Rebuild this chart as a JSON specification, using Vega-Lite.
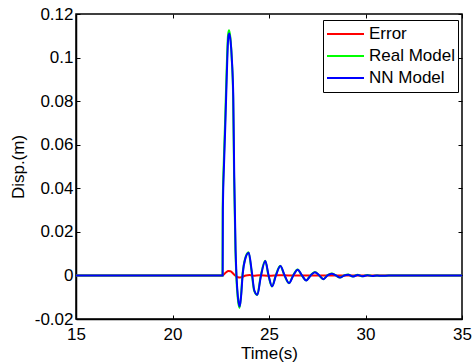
{
  "$schema": "https://vega.github.io/schema/vega-lite/v6.json",
  "autosize": {"type": "none"},
  "padding": {"left": 76, "top": 14, "right": 11, "bottom": 45},
  "width": 386,
  "height": 305,
  "background": "white",
  "config": {
    "font": "Liberation Sans",
    "view": {"stroke": "black", "strokeWidth": 1.5},
    "axis": {
      "labelFont": "Liberation Sans",
      "titleFont": "Liberation Sans",
      "labelFontSize": 17,
      "titleFontSize": 17,
      "titleFontWeight": "normal",
      "labelColor": "black",
      "titleColor": "black",
      "domainColor": "black",
      "domainWidth": 1.5,
      "tickColor": "black",
      "tickWidth": 1,
      "tickSize": -4,
      "labelFlush": false,
      "grid": false
    },
    "legend": {
      "labelFont": "Liberation Sans",
      "labelFontSize": 17,
      "labelColor": "black"
    }
  },
  "datasets": {
    "lines": [
      {"t": 15, "v": 0, "s": "Error"},
      {"t": 22.6, "v": 0, "s": "Error"},
      {"t": 22.75, "v": 0.0012, "s": "Error"},
      {"t": 22.9, "v": 0.002, "s": "Error"},
      {"t": 23.0, "v": 0.0019, "s": "Error"},
      {"t": 23.15, "v": 0.0008, "s": "Error"},
      {"t": 23.3, "v": -0.0004, "s": "Error"},
      {"t": 23.45, "v": -0.001, "s": "Error"},
      {"t": 23.6, "v": -0.0007, "s": "Error"},
      {"t": 23.8, "v": 0, "s": "Error"},
      {"t": 24.0, "v": 0.0002, "s": "Error"},
      {"t": 24.2, "v": -0.0002, "s": "Error"},
      {"t": 24.5, "v": 0.0001, "s": "Error"},
      {"t": 25.0, "v": -0.0001, "s": "Error"},
      {"t": 25.5, "v": 0.0001, "s": "Error"},
      {"t": 26.0, "v": 0, "s": "Error"},
      {"t": 35, "v": 0, "s": "Error"},

      {"t": 15, "v": 0, "s": "Real Model"},
      {"t": 22.59, "v": 0, "s": "Real Model"},
      {"t": 22.60, "v": 0.031, "s": "Real Model"},
      {"t": 22.66, "v": 0.053, "s": "Real Model"},
      {"t": 22.73, "v": 0.072, "s": "Real Model"},
      {"t": 22.80, "v": 0.093, "s": "Real Model"},
      {"t": 22.88, "v": 0.1105, "s": "Real Model"},
      {"t": 22.93, "v": 0.1125, "s": "Real Model"},
      {"t": 23.00, "v": 0.109, "s": "Real Model"},
      {"t": 23.07, "v": 0.0995, "s": "Real Model"},
      {"t": 23.14, "v": 0.0825, "s": "Real Model"},
      {"t": 23.19, "v": 0.046, "s": "Real Model"},
      {"t": 23.26, "v": 0.0118, "s": "Real Model"},
      {"t": 23.31, "v": -0.0010, "s": "Real Model"},
      {"t": 23.38, "v": -0.0103, "s": "Real Model"},
      {"t": 23.47, "v": -0.0149, "s": "Real Model"},
      {"t": 23.54, "v": -0.0103, "s": "Real Model"},
      {"t": 23.63, "v": 0.0007, "s": "Real Model"},
      {"t": 23.76, "v": 0.0077, "s": "Real Model"},
      {"t": 23.94, "v": 0.0106, "s": "Real Model"},
      {"t": 24.09, "v": 0.0023, "s": "Real Model"},
      {"t": 24.23, "v": -0.0070, "s": "Real Model"},
      {"t": 24.39, "v": -0.0090, "s": "Real Model"},
      {"t": 24.56, "v": -0.0008, "s": "Real Model"},
      {"t": 24.80, "v": 0.0067, "s": "Real Model"},
      {"t": 24.97, "v": 0, "s": "Real Model"},
      {"t": 25.15, "v": -0.0051, "s": "Real Model"},
      {"t": 25.35, "v": 0, "s": "Real Model"},
      {"t": 25.58, "v": 0.0044, "s": "Real Model"},
      {"t": 25.80, "v": 0, "s": "Real Model"},
      {"t": 26.03, "v": -0.0036, "s": "Real Model"},
      {"t": 26.25, "v": 0, "s": "Real Model"},
      {"t": 26.48, "v": 0.0027, "s": "Real Model"},
      {"t": 26.70, "v": 0, "s": "Real Model"},
      {"t": 26.92, "v": -0.0023, "s": "Real Model"},
      {"t": 27.15, "v": 0, "s": "Real Model"},
      {"t": 27.37, "v": 0.0016, "s": "Real Model"},
      {"t": 27.60, "v": 0, "s": "Real Model"},
      {"t": 27.81, "v": -0.0017, "s": "Real Model"},
      {"t": 28.02, "v": 0, "s": "Real Model"},
      {"t": 28.24, "v": 0.0009, "s": "Real Model"},
      {"t": 28.46, "v": 0, "s": "Real Model"},
      {"t": 28.67, "v": -0.0010, "s": "Real Model"},
      {"t": 28.89, "v": 0, "s": "Real Model"},
      {"t": 29.10, "v": 0.0004, "s": "Real Model"},
      {"t": 29.34, "v": -0.0005, "s": "Real Model"},
      {"t": 29.59, "v": 0.0003, "s": "Real Model"},
      {"t": 29.84, "v": -0.0004, "s": "Real Model"},
      {"t": 30.09, "v": 0.0002, "s": "Real Model"},
      {"t": 30.34, "v": -0.0003, "s": "Real Model"},
      {"t": 30.59, "v": 0, "s": "Real Model"},
      {"t": 30.84, "v": -0.0002, "s": "Real Model"},
      {"t": 31.2, "v": 0, "s": "Real Model"},
      {"t": 35, "v": 0, "s": "Real Model"},

      {"t": 15, "v": 0, "s": "NN Model"},
      {"t": 22.60, "v": 0, "s": "NN Model"},
      {"t": 22.61, "v": 0.030, "s": "NN Model"},
      {"t": 22.67, "v": 0.051, "s": "NN Model"},
      {"t": 22.74, "v": 0.070, "s": "NN Model"},
      {"t": 22.81, "v": 0.091, "s": "NN Model"},
      {"t": 22.89, "v": 0.1093, "s": "NN Model"},
      {"t": 22.94, "v": 0.111, "s": "NN Model"},
      {"t": 23.01, "v": 0.1075, "s": "NN Model"},
      {"t": 23.08, "v": 0.0985, "s": "NN Model"},
      {"t": 23.15, "v": 0.0815, "s": "NN Model"},
      {"t": 23.20, "v": 0.045, "s": "NN Model"},
      {"t": 23.27, "v": 0.0115, "s": "NN Model"},
      {"t": 23.32, "v": -0.0008, "s": "NN Model"},
      {"t": 23.39, "v": -0.0099, "s": "NN Model"},
      {"t": 23.48, "v": -0.0143, "s": "NN Model"},
      {"t": 23.55, "v": -0.0099, "s": "NN Model"},
      {"t": 23.64, "v": 0.0008, "s": "NN Model"},
      {"t": 23.77, "v": 0.0076, "s": "NN Model"},
      {"t": 23.95, "v": 0.0104, "s": "NN Model"},
      {"t": 24.10, "v": 0.0023, "s": "NN Model"},
      {"t": 24.24, "v": -0.0069, "s": "NN Model"},
      {"t": 24.40, "v": -0.0089, "s": "NN Model"},
      {"t": 24.57, "v": -0.0008, "s": "NN Model"},
      {"t": 24.81, "v": 0.0066, "s": "NN Model"},
      {"t": 24.98, "v": 0, "s": "NN Model"},
      {"t": 25.16, "v": -0.0050, "s": "NN Model"},
      {"t": 25.36, "v": 0, "s": "NN Model"},
      {"t": 25.59, "v": 0.0043, "s": "NN Model"},
      {"t": 25.81, "v": 0, "s": "NN Model"},
      {"t": 26.04, "v": -0.0035, "s": "NN Model"},
      {"t": 26.26, "v": 0, "s": "NN Model"},
      {"t": 26.49, "v": 0.0026, "s": "NN Model"},
      {"t": 26.71, "v": 0, "s": "NN Model"},
      {"t": 26.93, "v": -0.0023, "s": "NN Model"},
      {"t": 27.16, "v": 0, "s": "NN Model"},
      {"t": 27.38, "v": 0.0015, "s": "NN Model"},
      {"t": 27.61, "v": 0, "s": "NN Model"},
      {"t": 27.82, "v": -0.0017, "s": "NN Model"},
      {"t": 28.03, "v": 0, "s": "NN Model"},
      {"t": 28.25, "v": 0.0008, "s": "NN Model"},
      {"t": 28.47, "v": 0, "s": "NN Model"},
      {"t": 28.68, "v": -0.0010, "s": "NN Model"},
      {"t": 28.90, "v": 0, "s": "NN Model"},
      {"t": 29.11, "v": 0.0003, "s": "NN Model"},
      {"t": 29.35, "v": -0.0005, "s": "NN Model"},
      {"t": 29.60, "v": 0.0002, "s": "NN Model"},
      {"t": 29.85, "v": -0.0004, "s": "NN Model"},
      {"t": 30.10, "v": 0.0001, "s": "NN Model"},
      {"t": 30.35, "v": -0.0003, "s": "NN Model"},
      {"t": 30.60, "v": 0, "s": "NN Model"},
      {"t": 30.85, "v": -0.0002, "s": "NN Model"},
      {"t": 31.2, "v": 0, "s": "NN Model"},
      {"t": 35, "v": 0, "s": "NN Model"}
    ]
  },
  "data": {"name": "lines"},
  "layer": [
    {
      "mark": {"type": "line", "strokeWidth": 2, "interpolate": "monotone"},
      "encoding": {
        "x": {
          "field": "t", "type": "quantitative",
          "scale": {"domain": [15, 35], "nice": false},
          "axis": {"orient": "bottom", "values": [15, 20, 25, 30, 35], "title": "Time(s)", "labelPadding": 11, "titlePadding": 3}
        },
        "y": {
          "field": "v", "type": "quantitative",
          "scale": {"domain": [-0.02, 0.12], "nice": false, "zero": false},
          "axis": {"orient": "left", "values": [-0.02, 0, 0.02, 0.04, 0.06, 0.08, 0.1, 0.12], "labelExpr": "replace(format(datum.value, '.2~f'), '\u2212', '-')", "title": "Disp.(m)", "labelPadding": 7, "titlePadding": 7}
        },
        "color": {
          "field": "s", "type": "nominal", "sort": null,
          "scale": {"domain": ["Error", "Real Model", "NN Model"], "range": ["#ff0000", "#00ff00", "#0000ff"]},
          "legend": {
            "title": null, "orient": "none", "legendX": 247, "legendY": 6,
            "symbolType": "stroke", "symbolSize": 1369, "symbolStrokeWidth": 2,
            "strokeColor": "black", "fillColor": "white", "padding": 3, "labelOffset": 4,
            "rowPadding": 0, "clipHeight": 22, "labelFontSize": 17
          }
        }
      }
    },
    {
      "mark": {"type": "line", "opacity": 0},
      "encoding": {
        "x": {"field": "t", "type": "quantitative", "axis": {"orient": "top", "values": [15, 20, 25, 30, 35], "labels": false, "title": null, "domain": false}},
        "y": {"field": "v", "type": "quantitative", "axis": {"orient": "right", "values": [-0.02, 0, 0.02, 0.04, 0.06, 0.08, 0.1, 0.12], "labels": false, "title": null, "domain": false}},
        "detail": {"field": "s"}
      }
    }
  ],
  "resolve": {"axis": {"x": "independent", "y": "independent"}}
}
